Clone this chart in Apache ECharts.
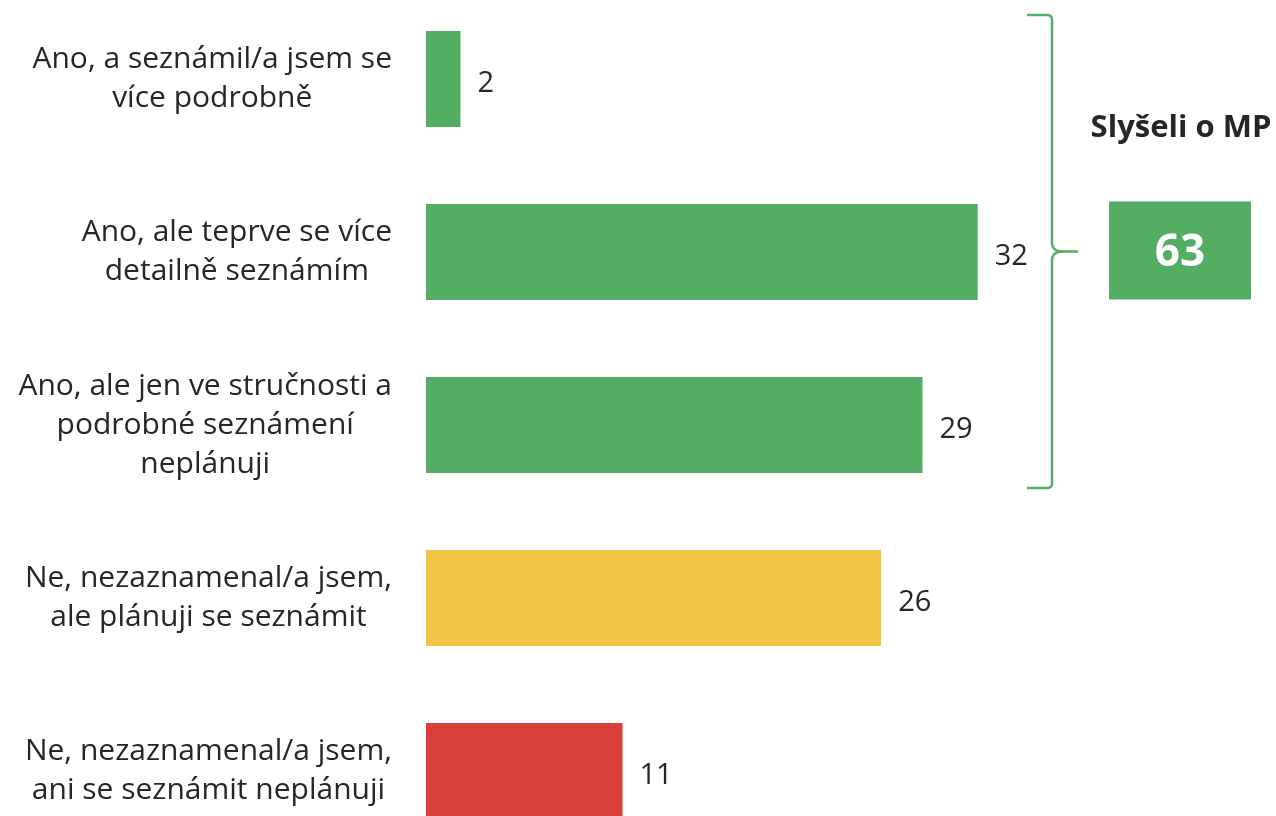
<!DOCTYPE html>
<html><head><meta charset="utf-8">
<script src="https://cdn.jsdelivr.net/npm/echarts@6/dist/echarts.min.js"></script>
<style>html,body{margin:0;padding:0;background:#fff;overflow:hidden}#c{width:1276px;height:816px}</style>
</head><body><div id="c"></div>
<script>
const categories = [
  'Ano, a seznámil/a jsem se\nvíce podrobně',
  'Ano, ale teprve se více\ndetailně seznámím',
  'Ano, ale jen ve stručnosti a\npodrobné seznámení\nneplánuji',
  'Ne, nezaznamenal/a jsem,\nale plánuji se seznámit',
  'Ne, nezaznamenal/a jsem,\nani se seznámit neplánuji'
];
const values = [2.0, 32.0, 28.8, 26.4, 11.4];
const colors = ['#53AE63', '#53AE63', '#53AE63', '#F2C443', '#D93F3B'];
const groupLabel = 'Slyšeli o MP';
const groupCount = 3;

const FONT = '"Open Sans", "Noto Sans", sans-serif';
const TXT = '#262626';
const GREEN = '#53AE63';
const chart = echarts.init(document.getElementById('c'), null, {renderer: 'canvas'});
chart.setOption({
  animation: false,
  grid: {left: 426, width: 689.6, top: -7.5, height: 865, containLabel: false, outerBoundsMode: 'none'},
  xAxis: {type: 'value', min: 0, max: 40, show: false},
  yAxis: {
    type: 'category', inverse: true, data: categories,
    axisLine: {show: false}, axisTick: {show: false}, splitLine: {show: false},
    axisLabel: {
      margin: 34, align: 'right',
      formatter: v => v.split('\n').map(l => '{c|' + l + '}').join('\n'),
      rich: {c: {align: 'center', fontSize: 30, lineHeight: 39, color: TXT, fontFamily: FONT}}
    }
  },
  series: [{
    type: 'bar', barWidth: 96,
    data: values.map((v, i) => ({value: v, itemStyle: {color: colors[i]}})),
    label: {show: true, position: 'right', distance: 17, offset: [0, 5], formatter: p => Math.round(p.value),
      fontSize: 29, color: TXT, fontFamily: FONT}
  }]
});

// brace annotation around the first groupCount bars
const half = 48;
const yTop = chart.convertToPixel({yAxisIndex: 0}, 0) - half - 16;
const yBot = chart.convertToPixel({yAxisIndex: 0}, groupCount - 1) + half + 15;
const yMid = (yTop + yBot) / 2;
const bx = 1052, bl = 1027, tip = 1078;
function quad(p0, p1, p2, n) {
  const out = [];
  for (let i = 1; i <= n; i++) {
    const t = i / n, u = 1 - t;
    out.push([u * u * p0[0] + 2 * u * t * p1[0] + t * t * p2[0], u * u * p0[1] + 2 * u * t * p1[1] + t * t * p2[1]]);
  }
  return out;
}
const upper = [[bl, yTop], [bx - 5, yTop]]
  .concat(quad([bx - 5, yTop], [bx, yTop], [bx, yTop + 5], 8))
  .concat([[bx, yMid - 9]])
  .concat(quad([bx, yMid - 9], [bx, yMid], [bx + 11, yMid], 10))
  .concat([[tip, yMid]]);
const lower = [[bx + 11, yMid]]
  .concat(quad([bx + 11, yMid], [bx, yMid], [bx, yMid + 9], 10))
  .concat([[bx, yBot - 5]])
  .concat(quad([bx, yBot - 5], [bx, yBot], [bx - 5, yBot], 8))
  .concat([[bl, yBot]]);
const total = Math.round(values.slice(0, groupCount).reduce((a, b) => a + b, 0));
chart.setOption({
  graphic: [
    {type: 'polyline', shape: {points: upper}, style: {fill: null, stroke: GREEN, lineWidth: 2.5}},
    {type: 'polyline', shape: {points: lower}, style: {fill: null, stroke: GREEN, lineWidth: 2.5}},
    {type: 'rect', shape: {x: 1109, y: yMid - 50, width: 142, height: 98}, style: {fill: GREEN}},
    {type: 'text', x: 1180, y: yMid + 2, style: {text: String(total), fill: '#fff', font: 'bold 44px ' + FONT,
      textAlign: 'center', textVerticalAlign: 'middle'}},
    {type: 'text', x: 1181, y: 128, style: {text: groupLabel, fill: TXT, font: 'bold 31px ' + FONT,
      textAlign: 'center', textVerticalAlign: 'middle'}}
  ]
});
</script></body></html>
